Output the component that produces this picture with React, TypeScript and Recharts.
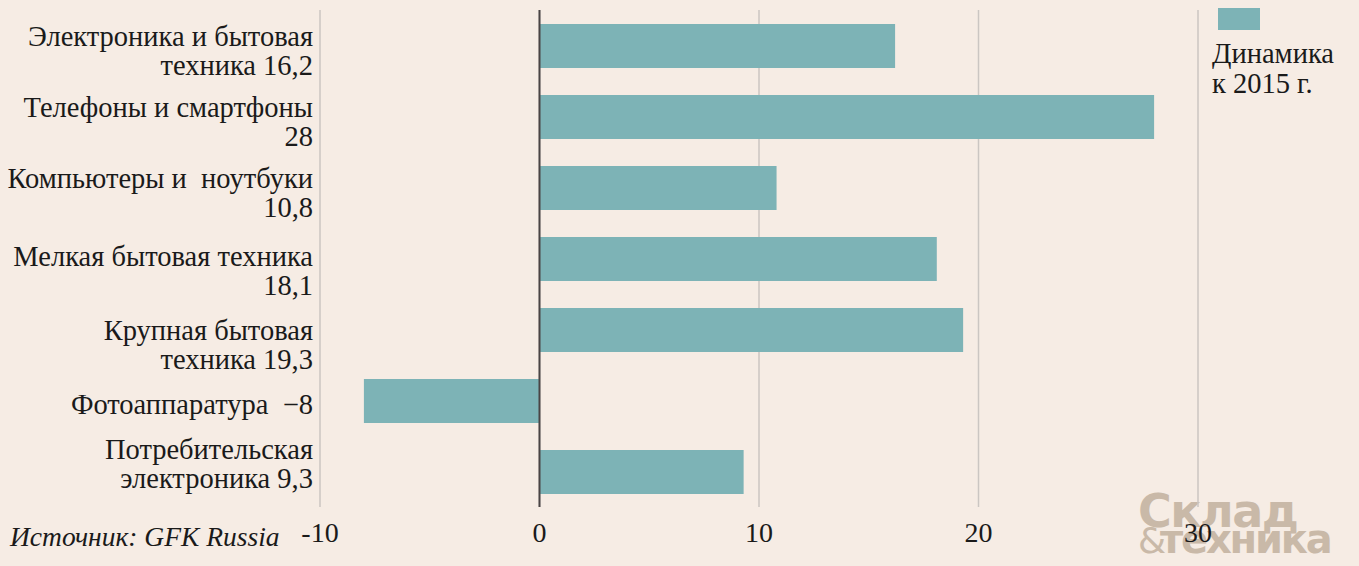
import React from 'react';
import { BarChart, Bar, XAxis, YAxis, CartesianGrid, ReferenceLine } from 'recharts';

const labelLine1 = [
  'Электроника и бытовая',
  'Телефоны и смартфоны',
  'Компьютеры и  ноутбуки',
  'Мелкая бытовая техника',
  'Крупная бытовая',
  'Фотоаппаратура  −8',
  'Потребительская',
];
const labelLine2 = [
  'техника 16,2',
  '28',
  '10,8',
  '18,1',
  'техника 19,3',
  '',
  'электроника 9,3',
];
const values = [16.2, 28, 10.8, 18.1, 19.3, -8, 9.3];
const xTicks = [-10, 0, 10, 20, 30];
const legendLines = ['Динамика', 'к 2015 г.'];

// layout nudges for the label blocks (styling only)
const LABEL_DY = [0, 0, 0, 7, 10, 13, -13];

const data = labelLine1.map((l, i) => ({ name: l, value: values[i] }));

const FONT = '"Liberation Serif", "DejaVu Serif", serif';
const BG = '#f6ece4';
const BAR = '#7db3b6';
const TEXT = '#1a1a1a';

const CatTick = (props: any) => {
  const { x, y, payload } = props;
  const i = labelLine1.indexOf(payload.value);
  const dy = LABEL_DY[i] ?? 0;
  const tx = x + 1;
  return (
    <g>
      <text x={tx} y={y + dy} textAnchor="end" fontSize={28.5} fill={TEXT} fontFamily={FONT} style={{ whiteSpace: 'pre' }}>
        <tspan x={tx} dy={0}>{labelLine1[i]}</tspan>
        {labelLine2[i] ? <tspan x={tx} dy={29}>{labelLine2[i]}</tspan> : null}
      </text>
    </g>
  );
};

const NumTick = (props: any) => {
  const { x, y, payload } = props;
  return (
    <text x={x} y={y + 27} textAnchor="middle" fontSize={28} fill={TEXT} fontFamily={FONT}>
      {String(payload.value)}
    </text>
  );
};

export default function App() {
  return (
    <div style={{ position: 'absolute', left: 0, top: 0, width: 1359, height: 566, background: BG, fontFamily: FONT, overflow: 'hidden' }}>
      <svg width={1359} height={566} style={{ position: 'absolute', left: 0, top: 0 }}>
        <g fill="#c9b9a8" fontFamily='"DejaVu Sans", sans-serif' fontWeight="bold">
          <text x={1138} y={527} fontSize={46} letterSpacing={-1.5}>Склад</text>
          <text x={1138} y={553} fontSize={36} fontWeight="normal">&amp;</text>
          <text x={1160} y={553} fontSize={40} letterSpacing={-2.2}>техника</text>
        </g>
      </svg>
      <div style={{ position: 'absolute', left: 0, top: 0 }}>
        <BarChart
          width={1359}
          height={566}
          data={data}
          layout="vertical"
          margin={{ top: 10, right: 161, bottom: 0, left: 0 }}
          barSize={44}
        >
          <CartesianGrid horizontal={false} stroke="#cbc6c2" strokeWidth={1.5} />
          <XAxis
            type="number"
            domain={[-10, 30]}
            ticks={xTicks}
            axisLine={false}
            tickLine={false}
            height={59}
            tick={<NumTick />}
            interval={0}
          />
          <YAxis
            type="category"
            dataKey="name"
            width={320}
            axisLine={false}
            tickLine={false}
            tick={<CatTick />}
            interval={0}
          />
          <Bar dataKey="value" name="Динамика к 2015 г." fill={BAR} isAnimationActive={false} />
          <ReferenceLine x={0} stroke="#4a4444" strokeWidth={2} />
        </BarChart>
      </div>
      <div style={{ position: 'absolute', left: 1212, top: 8, fontFamily: FONT, fontSize: 28.5, color: TEXT, lineHeight: '30px' }}>
        <div style={{ width: 42, height: 22, background: BAR, marginLeft: 6, marginBottom: 9 }} />
        {legendLines.map((l) => (
          <div key={l} style={{ whiteSpace: 'nowrap' }}>{l}</div>
        ))}
      </div>
      <div style={{ position: 'absolute', left: 10, top: 521, fontFamily: FONT, fontStyle: 'italic', fontSize: 27.5, color: TEXT, whiteSpace: 'nowrap' }}>
        Источник: GFK Russia
      </div>
    </div>
  );
}
